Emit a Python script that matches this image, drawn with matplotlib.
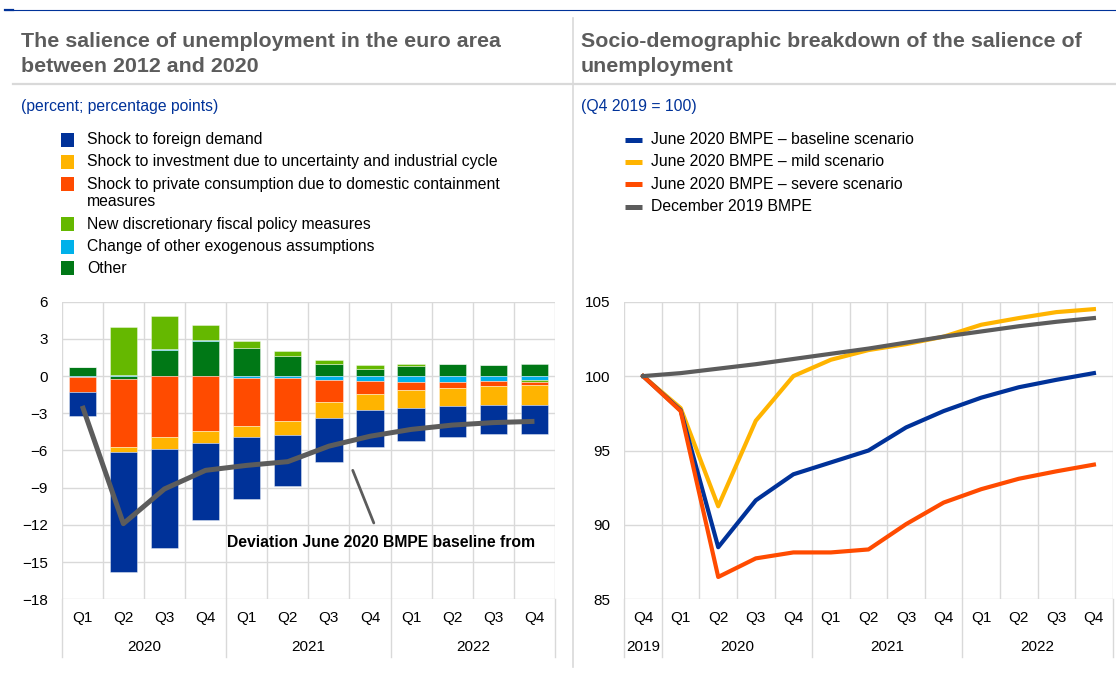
import matplotlib
matplotlib.use('Agg')
import matplotlib.pyplot as plt
import matplotlib.transforms as mtransforms
from matplotlib.patches import Rectangle
from matplotlib.lines import Line2D

plt.rcParams['font.family'] = ['Liberation Sans', 'DejaVu Sans']

# ---- data: left chart (percentage points) ----
quarters_left = ['Q1', 'Q2', 'Q3', 'Q4'] * 3
years_left = ['2020', '2021', '2022']
foreign = [-2.0, -9.7, -7.95, -6.2, -5.0, -4.1, -3.5, -3.0, -2.7, -2.5, -2.35, -2.35]
investment = [0.0, -0.35, -0.95, -1.0, -0.87, -1.15, -1.35, -1.3, -1.4, -1.45, -1.5, -1.55]
consumption = [-1.2, -5.55, -4.95, -4.4, -3.9, -3.45, -1.7, -1.05, -0.7, -0.5, -0.4, -0.3]
fiscal = [0.0, 3.8, 2.6, 1.25, 0.55, 0.45, 0.3, 0.33, 0.13, 0.03, 0.0, -0.1]
exogenous = [-0.05, 0.12, 0.12, 0.05, -0.15, -0.15, -0.35, -0.38, -0.44, -0.44, -0.41, -0.35]
other = [0.75, -0.2, 2.1, 2.85, 2.25, 1.6, 1.0, 0.6, 0.85, 0.98, 0.93, 1.0]
deviation = [-2.4, -11.9, -9.1, -7.6, -7.2, -6.9, -5.65, -4.85, -4.3, -3.95, -3.75, -3.65]

# ---- data: right chart (Q4 2019 = 100) ----
quarters_right = ['Q4', 'Q1', 'Q2', 'Q3', 'Q4', 'Q1', 'Q2', 'Q3', 'Q4', 'Q1', 'Q2', 'Q3', 'Q4']
years_right = ['2019', '2020', '2021', '2022']
baseline = [100, 97.7, 88.5, 91.65, 93.4, 94.2, 95.0, 96.55, 97.65, 98.55, 99.25, 99.75, 100.2]
mild = [100, 97.85, 91.25, 97.0, 100.0, 101.1, 101.75, 102.15, 102.65, 103.45, 103.9, 104.3, 104.5]
severe = [100, 97.65, 86.5, 87.75, 88.15, 88.15, 88.35, 90.05, 91.5, 92.4, 93.1, 93.6, 94.05]
dec2019 = [100, 100.2, 100.5, 100.8, 101.15, 101.5, 101.85, 102.25, 102.65, 103.0, 103.35, 103.65, 103.9]

BLUE = '#003299'
YELLOW = '#ffb400'
ORANGE = '#ff4b00'
LGREEN = '#65b800'
LBLUE = '#00b1ea'
DGREEN = '#007816'
GREY = '#5c5c5c'
GRID = '#d9d9d9'
TITLE = '#5c5c5c'

W, H = 1116, 674
fig = plt.figure(figsize=(W / 100, H / 100), dpi=100)


def fx(x):
    return x / W


def fy(y):
    return 1 - y / H


# frame decorations
fig.add_artist(Line2D([fx(5), fx(1116)], [fy(9.5), fy(9.5)], color=BLUE, lw=0.8))
fig.add_artist(Line2D([fx(5), fx(12.7)], [fy(10), fy(10)], color=BLUE, lw=1.6))
fig.add_artist(Line2D([fx(13), fx(1116)], [fy(83.5), fy(83.5)], color=GRID, lw=1.6))
fig.add_artist(Line2D([fx(572.7), fx(572.7)], [fy(18), fy(667)], color=GRID, lw=1.2))

# titles
for txt, y in [('The salience of unemployment in the euro area', 47), ('between 2012 and 2020', 71.5)]:
    fig.text(fx(20.7), fy(y), txt, fontsize=15.4, fontweight='bold', color=TITLE, va='baseline')
for txt, y in [('Socio-demographic breakdown of the salience of', 47), ('unemployment', 71.5)]:
    fig.text(fx(581), fy(y), txt, fontsize=15.4, fontweight='bold', color=TITLE, va='baseline')
fig.text(fx(20.7), fy(106), '(percent; percentage points)', fontsize=11.3, color=BLUE, va='center')
fig.text(fx(581), fy(106), '(Q4 2019 = 100)', fontsize=11.3, color=BLUE, va='center')

# left legend
left_items = [
    (BLUE, ['Shock to foreign demand'], 139.7),
    (YELLOW, ['Shock to investment due to uncertainty and industrial cycle'], 161.7),
    (ORANGE, ['Shock to private consumption due to domestic containment', 'measures'], 184.3),
    (LGREEN, ['New discretionary fiscal policy measures'], 224.3),
    (LBLUE, ['Change of other exogenous assumptions'], 246.7),
    (DGREEN, ['Other'], 268.3),
]
for c, lines, y in left_items:
    fig.add_artist(Rectangle((fx(61), fy(y + 7)), 13 / W, 14 / H, color=c, lw=0))
    for k, line in enumerate(lines):
        fig.text(fx(87.3), fy(y + 17.4 * k), line, fontsize=11.3, color='black', va='center')

# right legend
right_items = [
    (BLUE, 'June 2020 BMPE \u2013 baseline scenario', 140),
    (YELLOW, 'June 2020 BMPE \u2013 mild scenario', 161.7),
    (ORANGE, 'June 2020 BMPE \u2013 severe scenario', 184.3),
    (GREY, 'December 2019 BMPE', 206.7),
]
for c, lab, y in right_items:
    fig.add_artist(Line2D([fx(625), fx(641.5)], [fy(y), fy(y)], color=c, lw=3.6, solid_capstyle='butt'))
    fig.text(fx(651), fy(y), lab, fontsize=11.3, color='black', va='center')


def category_axis(ax, qlabels, year_labels, year_centers, separators):
    ax.set_xticks(range(len(qlabels)))
    ax.set_xticklabels([])
    ax.tick_params(axis='x', length=0)
    tr = mtransforms.blended_transform_factory(ax.transData, ax.transAxes)
    for i, q in enumerate(qlabels):
        ax.annotate(q, (i, 0), xycoords=tr, xytext=(0, -19), textcoords='offset pixels',
                    ha='center', va='center', fontsize=11)
    for yl, xc in zip(year_labels, year_centers):
        ax.annotate(yl, (xc, 0), xycoords=tr, xytext=(0, -48), textcoords='offset pixels',
                    ha='center', va='center', fontsize=11)
    for s in separators:
        ax.plot([s, s], [0, -0.193], transform=tr, color=GRID, lw=1, clip_on=False)


def style(ax, ncat):
    for sp in ax.spines.values():
        sp.set_visible(False)
    ax.grid(True, axis='y', color=GRID, lw=1)
    ax.set_xticks([i - 0.5 for i in range(ncat + 1)], minor=True)
    ax.grid(True, axis='x', which='minor', color=GRID, lw=1)
    ax.set_axisbelow(True)
    ax.tick_params(axis='x', which='minor', length=0)
    ax.tick_params(axis='y', length=0, labelsize=11, pad=10)


# ---- left chart ----
axL = fig.add_axes([fx(61.7), fy(599.3), (555 - 61.7) / W, (599.3 - 301.7) / H])
n = len(foreign)
x = list(range(n))
pos_bottom = [0.0] * n
neg_bottom = [0.0] * n
for vals, col in [(other, DGREEN), (exogenous, LBLUE), (fiscal, LGREEN),
                  (consumption, ORANGE), (investment, YELLOW), (foreign, BLUE)]:
    bottoms = [pos_bottom[i] if v >= 0 else neg_bottom[i] for i, v in enumerate(vals)]
    axL.bar(x, vals, bottom=bottoms, width=0.665, color=col,
            edgecolor=(1, 1, 1, 0.45), lw=0.6, zorder=2)
    for i, v in enumerate(vals):
        if v >= 0:
            pos_bottom[i] += v
        else:
            neg_bottom[i] += v
axL.plot(x, deviation, color=GREY, lw=3.6, zorder=3, solid_capstyle='butt')
axL.annotate('Deviation June 2020 BMPE baseline from', xy=(6.58, -7.6), xytext=(7.28, -13.4),
             ha='center', va='center', fontsize=11.3, fontweight='bold',
             arrowprops=dict(arrowstyle='-', color=GREY, lw=2, shrinkA=7, shrinkB=0))
axL.set_xlim(-0.5, 11.5)
axL.set_ylim(-18, 6)
axL.set_yticks(range(-18, 7, 3))
style(axL, n)
category_axis(axL, quarters_left, years_left, [1.5, 5.5, 9.5], [-0.5, 3.5, 7.5, 11.5])

# ---- right chart ----
axR = fig.add_axes([fx(624.3), fy(599.3), (1112.7 - 624.3) / W, (599.3 - 301.7) / H])
xr = list(range(len(baseline)))
axR.plot(xr, mild, color=YELLOW, lw=3, zorder=2)
axR.plot(xr, baseline, color=BLUE, lw=3, zorder=3)
axR.plot(xr, severe, color=ORANGE, lw=3, zorder=4)
axR.plot(xr, dec2019, color=GREY, lw=3, zorder=5)
axR.set_xlim(-0.5, 12.5)
axR.set_ylim(85, 105)
axR.set_yticks(range(85, 106, 5))
style(axR, len(xr))
category_axis(axR, quarters_right, years_right, [0, 2.5, 6.5, 10.5], [-0.5, 0.5, 4.5, 8.5, 12.5])

fig.savefig('out.png', dpi=100)
